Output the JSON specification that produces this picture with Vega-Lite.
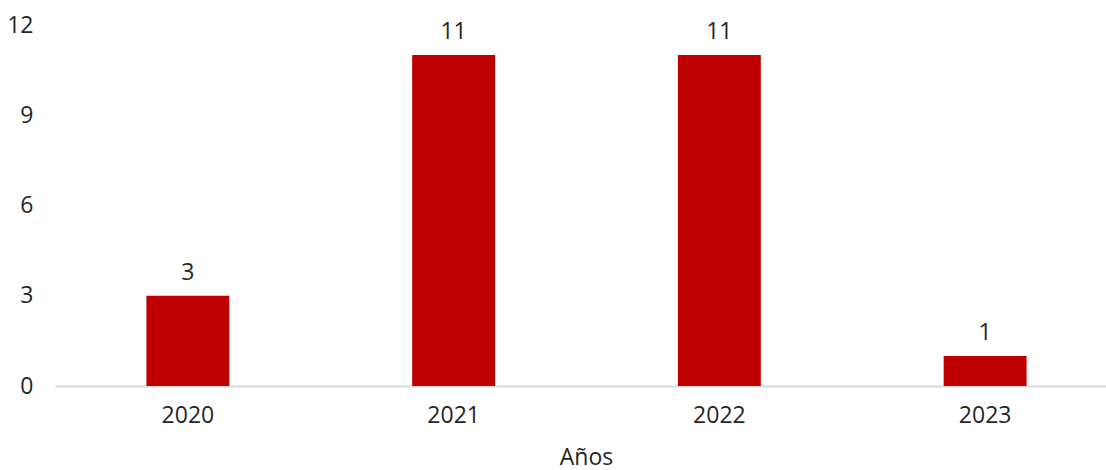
{
  "$schema": "https://vega.github.io/schema/vega-lite/v6.json",
  "width": 1051,
  "height": 361,
  "autosize": {"type": "none"},
  "padding": {"left": 55, "top": 25, "right": 0, "bottom": 84},
  "background": "white",
  "config": {"view": {"stroke": null}, "font": "Open Sans"},
  "data": {"values": [
    {"year": "2020", "count": 3},
    {"year": "2021", "count": 11},
    {"year": "2022", "count": 11},
    {"year": "2023", "count": 1}
  ]},
  "encoding": {
    "x": {"field": "year", "type": "nominal",
      "scale": {"range": [0, 1063], "paddingInner": 0.688, "paddingOuter": 0.344},
      "axis": {"title": "Años", "labelAngle": 0, "ticks": false, "tickSize": 0, "domainColor": "#D9D9D9", "domainWidth": 2,
        "labelFont": "Open Sans", "labelFontSize": 23, "labelColor": "#262626", "labelPadding": 18,
        "titleFont": "Open Sans", "titleFontSize": 23, "titleFontWeight": "normal", "titleColor": "#262626", "titlePadding": 19, "titleX": 531, "titleAnchor": "middle"}},
    "y": {"field": "count", "type": "quantitative",
      "scale": {"domain": [0, 12], "nice": false},
      "axis": {"values": [0, 3, 6, 9, 12], "title": null, "grid": false, "domain": false, "ticks": false, "tickSize": 0,
        "labelFont": "Open Sans", "labelFontSize": 23, "labelColor": "#262626", "labelPadding": 22}}
  },
  "layer": [
    {"mark": {"type": "bar", "color": "#C00000"}},
    {"mark": {"type": "text", "baseline": "alphabetic", "dy": -16, "fontSize": 23, "font": "Open Sans", "color": "#262626"},
      "encoding": {"text": {"field": "count", "type": "quantitative"}}}
  ]
}
